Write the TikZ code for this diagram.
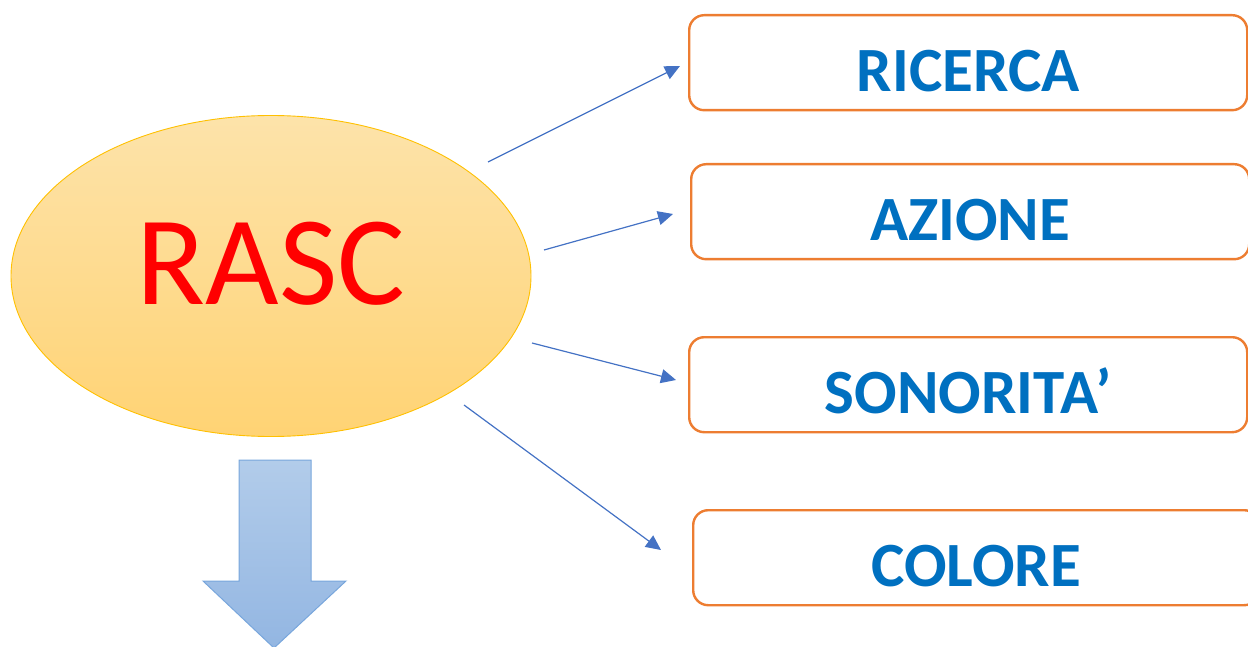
\documentclass[tikz,border=0pt]{standalone}
\usepackage{fontspec}
\setmainfont{Carlito}
\usetikzlibrary{arrows.meta,shapes.geometric}
\definecolor{boxorange}{HTML}{ED7D31}
\definecolor{txtblue}{HTML}{0070C0}
\definecolor{arrblue}{HTML}{4472C4}
\definecolor{elltop}{HTML}{FDE3AA}
\definecolor{ellbot}{HTML}{FFD374}
\definecolor{ellline}{HTML}{FFC000}
\definecolor{bartop}{HTML}{B2CCEA}
\definecolor{barbot}{HTML}{93B6E2}
\definecolor{barline}{HTML}{78A6DC}
\tikzset{
  itembox/.style={draw=boxorange, line width=2.4pt, rounded corners=15pt, fill=white,
    minimum width=558pt, minimum height=95pt, inner sep=0pt,
    text=txtblue, font=\fontsize{63}{63}\selectfont\bfseries,
    text height=57pt, text depth=0pt, anchor=north west},
  link/.style={draw=arrblue, line width=1.2pt, -{Triangle[length=15pt,width=14pt]}}
}
\begin{document}
\begin{tikzpicture}[x=1pt,y=-1pt]
\useasboundingbox (0,0) rectangle (1248,647);
\node[ellipse, draw=ellline, line width=0.9pt, top color=elltop, bottom color=ellbot,
  minimum width=520pt, minimum height=321pt, inner sep=0pt,
  text=red, font=\fontsize{127}{127}\selectfont, text height=82pt, text depth=24pt]
  (rasc) at (271,276) {RASC};
\node[itembox] (ricerca) at (688,14) {RICERCA};
\node[itembox] (azione) at (690,163) {AZIONE};
\node[itembox] (sonorita) at (688,336) {SONORITA’};
\node[itembox, minimum width=566pt] (colore) at (692,509) {COLORE};
\coordinate (s1) at (488,162);
\coordinate (e1) at (680,66);
\coordinate (s2) at (544,250);
\coordinate (e2) at (673,214);
\coordinate (s3) at (532,343);
\coordinate (e3) at (676,380);
\coordinate (s4) at (464,405);
\coordinate (e4) at (661,550);
\draw[link] (s1) -- (e1);
\draw[link] (s2) -- (e2);
\draw[link] (s3) -- (e3);
\draw[link] (s4) -- (e4);
\path[draw=barline, line width=1pt, top color=bartop, bottom color=barbot]
  (239,460) -- (311,460) -- (311,581) -- (346,581) -- (274,648) -- (203,581) -- (239,581) -- cycle;
\end{tikzpicture}
\end{document}
